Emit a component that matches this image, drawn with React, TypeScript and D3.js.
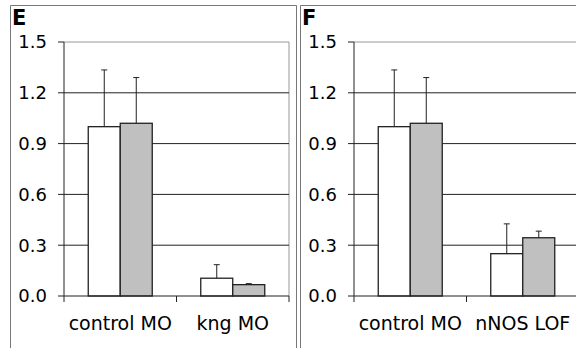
import React from 'react'
import * as d3 from 'd3'

// Panel E
const categoriesE = ['control MO', 'kng MO']
const whiteE = [1.0, 0.105]
const grayE = [1.02, 0.067]
const whiteErrE = [0.335, 0.08]
const grayErrE = [0.27, 0.006]

// Panel F
const categoriesF = ['control MO', 'nNOS LOF']
const whiteF = [1.0, 0.25]
const grayF = [1.02, 0.344]
const whiteErrF = [0.335, 0.176]
const grayErrF = [0.27, 0.039]

const yTicks = [0, 0.3, 0.6, 0.9, 1.2, 1.5]

const FONT = '"DejaVu Sans", Verdana, sans-serif'

interface PanelProps {
  letter: string
  categories: string[]
  white: number[]
  gray: number[]
  whiteErr: number[]
  grayErr: number[]
  x0: number
  x1: number
}

const Panel: React.FC<PanelProps> = ({ letter, categories, white, gray, whiteErr, grayErr, x0, x1 }) => {
  const y = d3.scaleLinear().domain([0, 1.5]).range([296, 42])
  const x = d3.scaleBand().domain(categories).range([x0, x1])
  const barW = 32
  const cap = 3

  return (
    <g>
      {/* panel letter */}
      <text x={x0 - 52} y={25} fontFamily={FONT} fontWeight="bold" fontSize={21} fill="#000">
        {letter}
      </text>

      {/* plot frame: top and right in light gray */}
      <line x1={x0} x2={x1} y1={y(1.5)} y2={y(1.5)} stroke="#999" strokeWidth={1} />
      <line x1={x1} x2={x1} y1={y(1.5)} y2={y(0)} stroke="#999" strokeWidth={1} />

      {/* gridlines */}
      {yTicks
        .filter(t => t > 0 && t < 1.5)
        .map(t => (
          <line key={t} x1={x0} x2={x1} y1={y(t)} y2={y(t)} stroke="#222" strokeWidth={1} />
        ))}

      {/* y axis */}
      <line x1={x0} x2={x0} y1={y(1.5)} y2={y(0)} stroke="#222" strokeWidth={1} />
      {yTicks.map(t => (
        <g key={t}>
          <line x1={x0 - 6} x2={x0} y1={y(t)} y2={y(t)} stroke="#222" strokeWidth={1} />
          <text
            x={x0 - 17}
            y={y(t)}
            dy="0.36em"
            textAnchor="end"
            fontFamily={FONT}
            fontSize={18}
            fill="#000"
          >
            {d3.format('.1f')(t)}
          </text>
        </g>
      ))}

      {/* bars */}
      {categories.map((c, i) => {
        const cx = (x(c) || 0) + x.bandwidth() / 2
        const bars = [
          { v: white[i], e: whiteErr[i], fill: '#ffffff', left: cx - barW },
          { v: gray[i], e: grayErr[i], fill: '#c0c0c0', left: cx },
        ]
        return (
          <g key={c}>
            {bars.map((b, j) => {
              const mid = b.left + barW / 2
              return (
                <g key={j}>
                  <line x1={mid} x2={mid} y1={y(b.v)} y2={y(b.v + b.e)} stroke="#222" strokeWidth={1} />
                  <line x1={mid - cap} x2={mid + cap} y1={y(b.v + b.e)} y2={y(b.v + b.e)} stroke="#222" strokeWidth={1} />
                  <rect
                    x={b.left}
                    y={y(b.v)}
                    width={barW}
                    height={y(0) - y(b.v)}
                    fill={b.fill}
                    stroke="#222"
                    strokeWidth={1.3}
                  />
                </g>
              )
            })}
          </g>
        )
      })}

      {/* x axis */}
      <line x1={x0} x2={x1} y1={y(0)} y2={y(0)} stroke="#222" strokeWidth={1.2} />
      {[x0, ...categories.map(c => (x(c) || 0) + x.bandwidth())].map((t, i) => (
        <line key={i} x1={t} x2={t} y1={y(0)} y2={y(0) + 6} stroke="#222" strokeWidth={1} />
      ))}
      {categories.map(c => (
        <text
          key={c}
          x={(x(c) || 0) + x.bandwidth() / 2}
          y={330}
          textAnchor="middle"
          fontFamily={FONT}
          fontSize={19}
          fill="#000"
        >
          {c}
        </text>
      ))}
    </g>
  )
}

export default function App() {
  return (
    <svg
      width={576}
      height={348}
      style={{ position: 'absolute', left: 0, top: 0, background: '#fff' }}
    >
      <rect x={0} y={0} width={576} height={348} fill="#fff" />
      {/* panel borders */}
      <path d="M10.5,349 V5.5 H296.5 V349" fill="none" stroke="#777" strokeWidth={1} />
      <path d="M300.5,349 V5.5 H577" fill="none" stroke="#777" strokeWidth={1} />
      <Panel
        letter="E"
        categories={categoriesE}
        white={whiteE}
        gray={grayE}
        whiteErr={whiteErrE}
        grayErr={grayErrE}
        x0={64}
        x1={289}
      />
      <Panel
        letter="F"
        categories={categoriesF}
        white={whiteF}
        gray={grayF}
        whiteErr={whiteErrF}
        grayErr={grayErrF}
        x0={354}
        x1={579}
      />
    </svg>
  )
}
